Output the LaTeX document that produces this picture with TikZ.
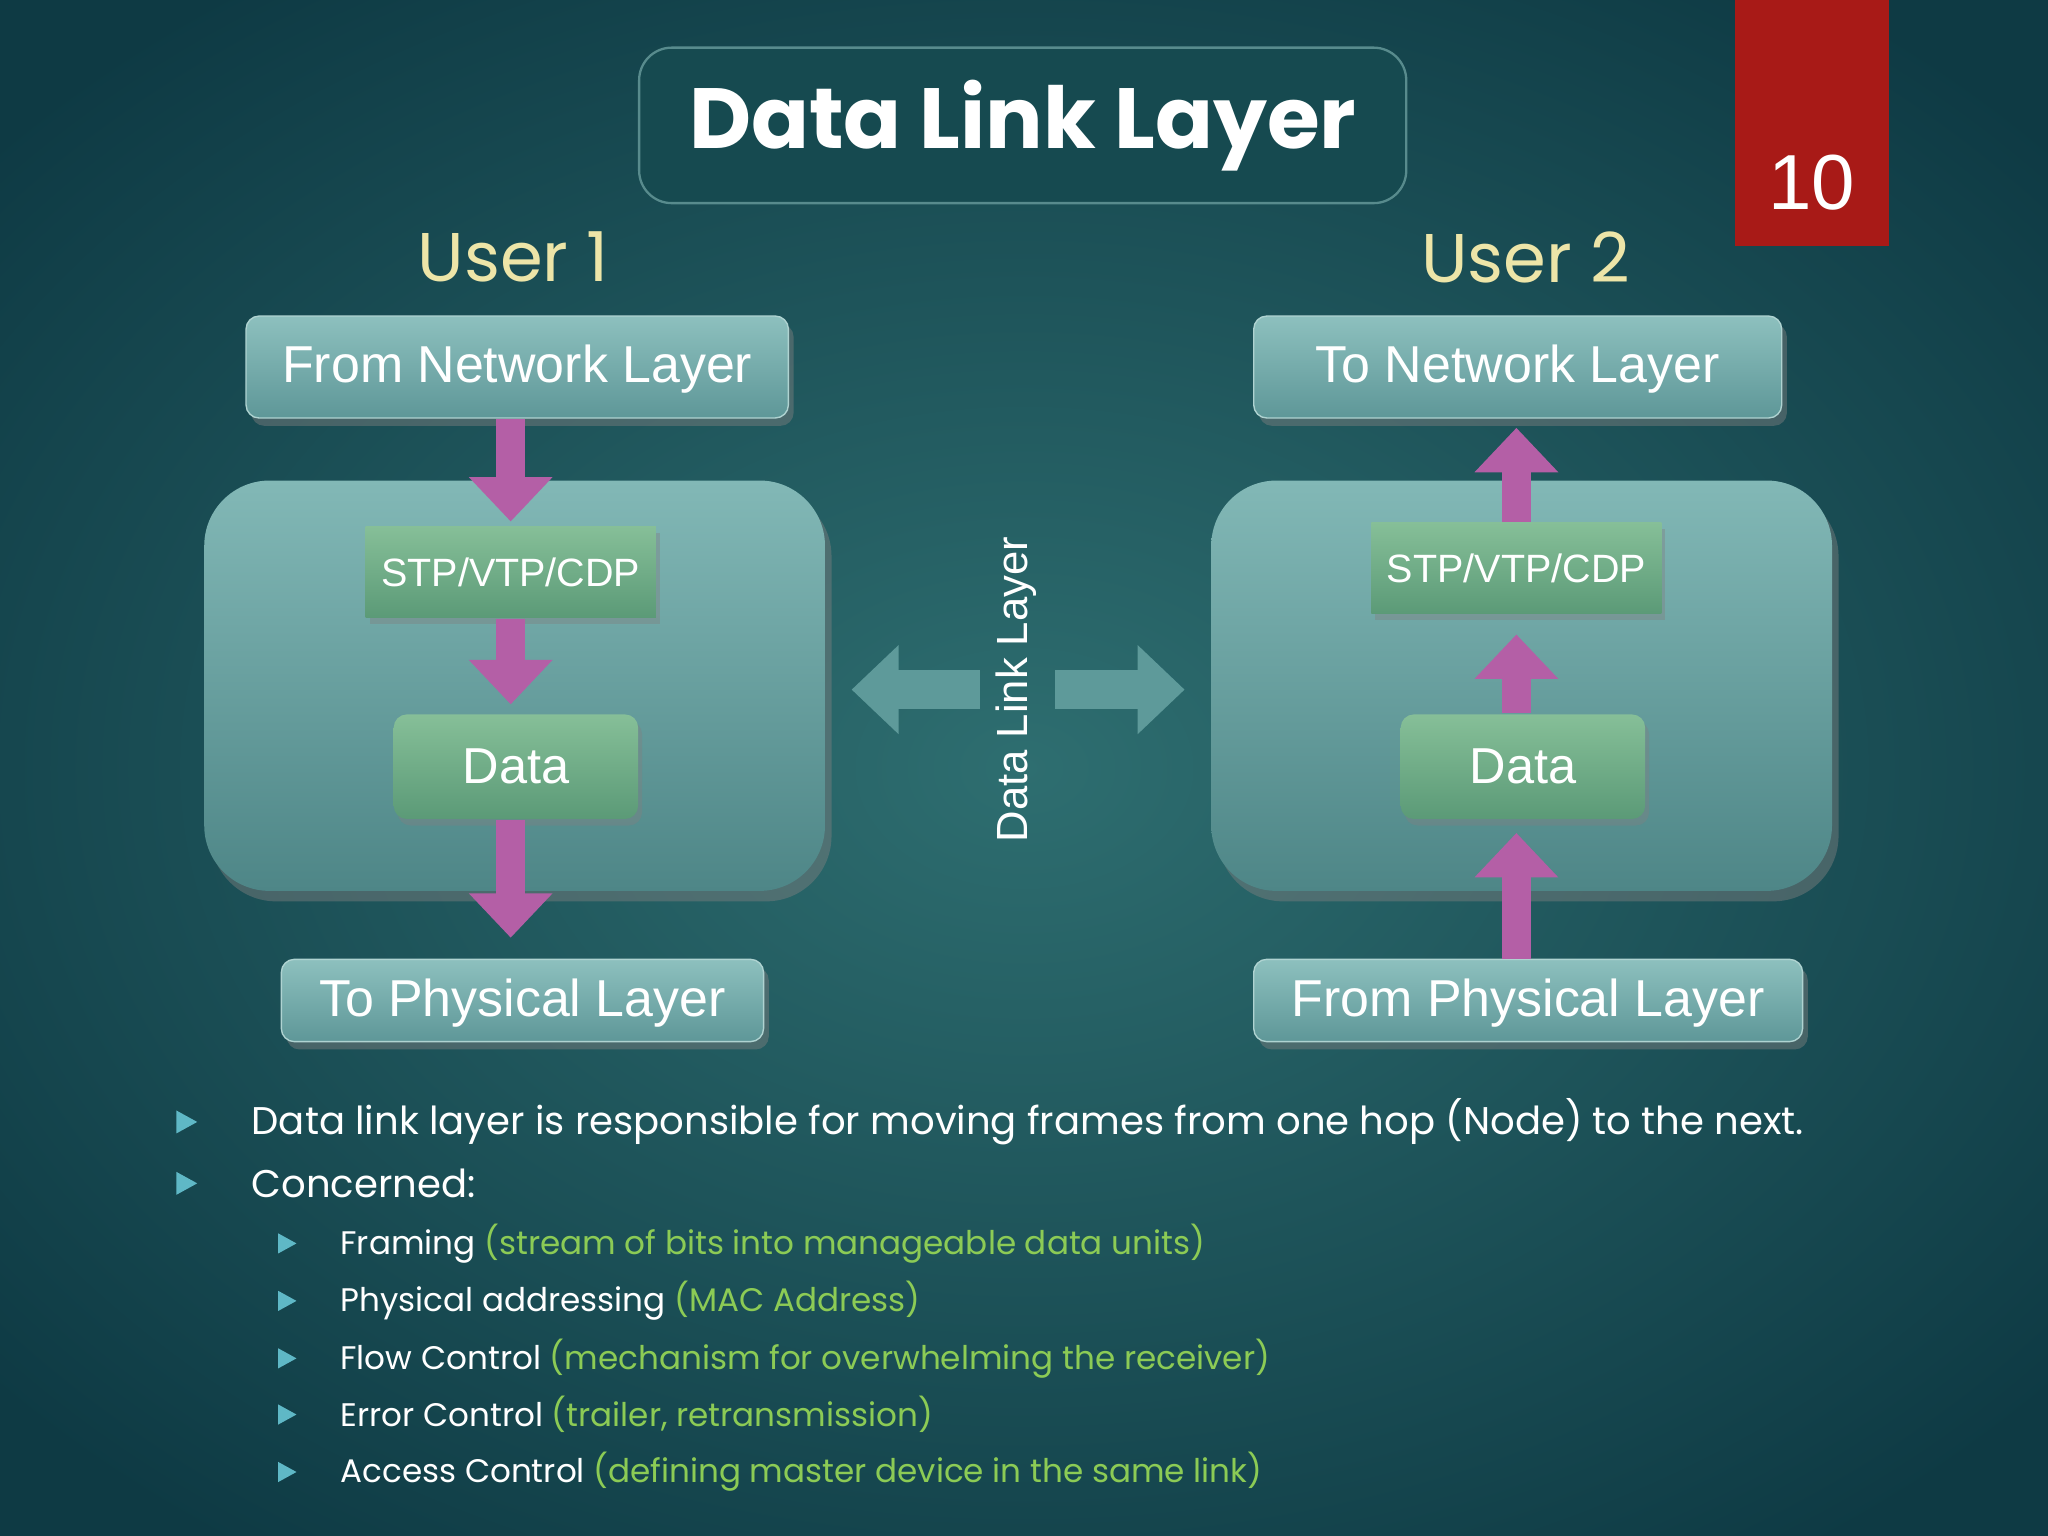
\documentclass[tikz,border=0pt]{standalone}
\usepackage{fontspec}
\setmainfont{Poppins}
\newfontfamily\arialf{Liberation Sans}
\usetikzlibrary{arrows.meta,shadows}
\definecolor{bgin}{HTML}{2E6E70}
\definecolor{bgout}{HTML}{0E3A44}
\definecolor{titlebg}{HTML}{164A50}
\definecolor{slred}{HTML}{A81A17}
\definecolor{cream}{HTML}{EDE5A8}
\definecolor{boxtop}{HTML}{8DC0BE}
\definecolor{boxbot}{HTML}{5E9798}
\definecolor{contop}{HTML}{82B8B6}
\definecolor{conbot}{HTML}{4E8687}
\definecolor{grtop}{HTML}{86BF98}
\definecolor{grbot}{HTML}{5B9A77}
\definecolor{mag}{HTML}{B45FA6}
\definecolor{tealarrow}{HTML}{5E9A9A}
\definecolor{lgreen}{HTML}{8CCB55}
\definecolor{bullet}{HTML}{5FB8C6}
\tikzset{
 x=0.01cm,y=-0.01cm,
 lbox/.style={rounded corners=0.1cm,top color=boxtop,bottom color=boxbot,draw=boxtop!70!white,line width=0.3pt,
   drop shadow={opacity=0.45,shadow xshift=0.04cm,shadow yshift=-0.06cm},text=white,font=\arialf\fontsize{11.3}{13}\selectfont,text depth=0.05cm},
 gbox/.style={top color=grtop,bottom color=grbot,text=white,drop shadow={opacity=0.4,shadow xshift=0.03cm,shadow yshift=-0.05cm},font=\arialf},
 contbox/.style={rounded corners=0.5cm,top color=contop,bottom color=conbot,drop shadow={opacity=0.45,shadow xshift=0.05cm,shadow yshift=-0.08cm}},
 magarrow/.style={draw=mag,line width=0.22cm,-{Triangle[width=0.62cm 0,length=0.34cm 0]}},
 tarrow/.style={draw=tealarrow,line width=0.3cm,-{Triangle[width=0.66cm 0,length=0.36cm 0]}},
 bul/.style={fill=bullet},
 btxt/.style={anchor=west,text=white,inner sep=0pt},
}
\newcommand{\btri}[3]{\fill[bul] (#1-#3,#2-#3*1.1) -- (#1+#3,#2) -- (#1-#3,#2+#3*1.1) -- cycle;}
\begin{document}
\begin{tikzpicture}
\useasboundingbox (0,0) rectangle (1568,1176);
\shade[inner color=bgin,outer color=bgout] (-250,-150) rectangle (1818,1326);
% title
\node[draw=bgin!80!white,line width=0.5pt,fill=titlebg,rounded corners=0.25cm,minimum width=5.87cm,minimum height=1.19cm,
  font=\bfseries\fontsize{18.6}{23}\selectfont,text=white] (title) at (783,96) {Data Link Layer};
\fill[slred] (1328,0) rectangle (1446,188);
\node[text=white,font=\arialf\fontsize{17}{20}\selectfont] (num) at (1387,140) {10};
% users
\node[text=cream,font=\fontsize{15}{18}\selectfont] (u1) at (393,197) {User 1};
\node[text=cream,font=\fontsize{15}{18}\selectfont] (u2) at (1168,197) {User 2};
% left
\node[contbox,minimum width=4.75cm,minimum height=3.14cm] (lc) at (394,525) {};
\node[lbox,minimum width=4.15cm,minimum height=0.78cm] (fnl) at (396,281) {From Network Layer};
\node[gbox,minimum width=2.22cm,minimum height=0.70cm,font=\arialf\fontsize{8.6}{10}\selectfont] (lstp) at (391,438) {STP/VTP/CDP};
\node[gbox,rounded corners=0.1cm,minimum width=1.87cm,minimum height=0.80cm,font=\arialf\fontsize{11}{13}\selectfont] (ld) at (395,587) {Data};
\node[lbox,minimum width=3.69cm,minimum height=0.63cm] (tpl) at (400,766) {To Physical Layer};
\draw[magarrow] (fnl.south -| lstp) -- ([yshift=0.03cm]lstp.north);
\draw[magarrow] (lstp.south) -- ([yshift=0.07cm]ld.north -| lstp);
\draw[magarrow] (ld.south -| lstp) -- ([yshift=0.16cm]tpl.north -| lstp);
% right
\node[contbox,minimum width=4.75cm,minimum height=3.14cm] (rc) at (1165,525) {};
\node[lbox,minimum width=4.04cm,minimum height=0.78cm] (tnl) at (1162,281) {To Network Layer};
\node[gbox,minimum width=2.22cm,minimum height=0.70cm,font=\arialf\fontsize{8.6}{10}\selectfont] (rstp) at (1161,435) {STP/VTP/CDP};
\node[gbox,rounded corners=0.1cm,minimum width=1.87cm,minimum height=0.80cm,font=\arialf\fontsize{11}{13}\selectfont] (rd) at (1166,587) {Data};
\node[lbox,minimum width=4.2cm,minimum height=0.63cm] (fpl) at (1170,766) {From Physical Layer};
\draw[magarrow] (rstp.north) -- ([yshift=-0.07cm]tnl.south -| rstp);
\draw[magarrow] (rd.north -| rstp) -- ([yshift=-0.15cm]rstp.south);
\draw[magarrow] (fpl.north -| rstp) -- ([yshift=-0.1cm]rd.south -| rstp);
% center
\node[rotate=90,text=white,font=\arialf\fontsize{9.5}{11}\selectfont] (dll) at (778,528) {Data Link Layer};
\coordinate (la0) at (750,528);
\coordinate (ra0) at (808,528);
\coordinate (la) at (652,528);
\coordinate (ra) at (907,528);
\draw[tarrow] (la0) -- (la);
\draw[tarrow] (ra0) -- (ra);
% bullets
\btri{143}{859}{8}
\btri{143}{906}{8}
\node[btxt,font=\fontsize{8.4}{10}\selectfont] (b1) at (192,859) {Data link layer is responsible for moving frames from one hop (Node) to the next.};
\node[btxt,font=\fontsize{8.4}{10}\selectfont] (b2) at (192,906) {Concerned:};
\foreach \y/\a/\b in {952/Framing/{(stream of bits into manageable data units)},996/Physical addressing/{(MAC Address)},1040/Flow Control/{(mechanism for overwhelming the receiver)},1083/Error Control/{(trailer, retransmission)},1127/Access Control/{(defining master device in the same link)}}{
 \btri{220}{\y}{7}
 \node[btxt,font=\fontsize{7.1}{9}\selectfont] at (260,\y) {\a\ \textcolor{lgreen}{\b}};
}
\end{tikzpicture}
\end{document}
